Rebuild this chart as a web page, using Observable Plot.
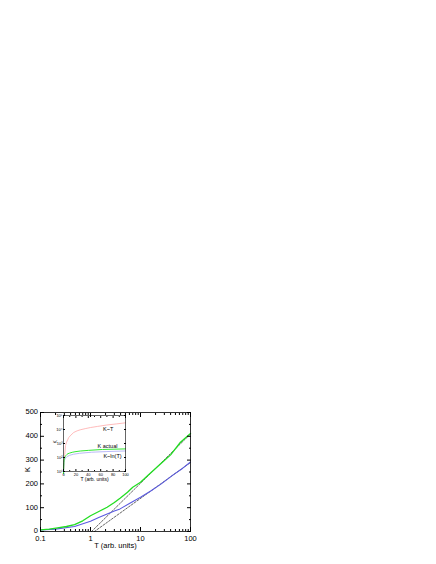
<!DOCTYPE html>
<html><head><meta charset="utf-8">
<script src="https://cdn.jsdelivr.net/npm/d3@7"></script>
<script src="https://cdn.jsdelivr.net/npm/@observablehq/plot@0.6"></script>
<style>
body{margin:0;background:#fff;}
#wrap{position:relative;width:436px;height:564px;}
#wrap svg{position:absolute;left:0;top:0;}
</style>
</head><body><div id="wrap"></div>
<script>
// K actual (green)
const greenT = [0.1, 0.15, 0.22, 0.33, 0.48, 0.7, 1, 1.5, 2.15, 3, 3.9, 5.5, 7, 10, 14, 18.5, 27, 40, 63, 100];
const greenK = [7, 10, 15, 21, 29, 45, 66, 85, 102, 122, 140, 165, 186, 207, 235, 258, 290, 322, 375, 412];
// K ~ ln(T) (blue)
const blueT = [0.1, 0.2, 0.48, 1, 1.5, 2.15, 3, 3.9, 6, 10, 16, 26, 45, 70, 100];
const blueK = [6, 10, 21, 43, 60, 74, 86, 95, 118, 144, 170, 200, 238, 266, 292];
// dashed asymptotes
const dashAT = [1.05, 100];
const dashAK = [0, 410];
const dashBT = [1.2, 100];
const dashBK = [0, 290];
// K ~ T (pink, inset only)
const pinkT = [0.5, 1, 2, 3.2, 5, 8.5, 12, 16.6, 22, 27, 35, 43.5, 55, 70, 85, 100];
const pinkK = [16, 40, 160, 720, 1260, 2700, 4000, 6200, 8000, 9500, 11500, 13800, 16600, 21000, 25000, 30000];
// ticks
const xMajor = [0.1, 1, 10, 100];
const xMinor = [0.2,0.3,0.4,0.5,0.6,0.7,0.8,0.9,2,3,4,5,6,7,8,9,20,30,40,50,60,70,80,90];
const yMajor = [0, 100, 200, 300, 400, 500];
const yMinor = [50, 150, 250, 350, 450];
const insetXMajor = [0, 20, 40, 60, 80, 100];
const insetXMinor = [10, 30, 50, 70, 90];
const insetYMajor = [10, 100, 1000, 10000, 100000];
const insetYLabels = ["10\u00b9", "10\u00b2", "10\u00b3", "10\u2074", "10\u2075"];
const insetNotes = [
  {t: 72, k: 10000, s: "K~T"},
  {t: 71, k: 620, s: "K actual"},
  {t: 79, k: 118, s: "K~ln(T)"}
];

const font = "'Liberation Sans', Arial, sans-serif";
const zip = (a, b) => a.map((v, i) => ({x: v, y: b[i]}));
const blank = () => "";

const main = Plot.plot({
  width: 436, height: 564,
  marginLeft: 40, marginRight: 246, marginTop: 412, marginBottom: 33,
  style: {fontFamily: font, fontSize: "7.5px", background: "transparent", color: "#000"},
  x: {type: "log", domain: [0.1, 100]},
  y: {domain: [0, 500]},
  marks: [
    Plot.line(zip(dashAT, dashAK), {x: "x", y: "y", stroke: "#222", strokeWidth: 0.7, strokeDasharray: "2,1.5"}),
    Plot.line(zip(dashBT, dashBK), {x: "x", y: "y", stroke: "#222", strokeWidth: 0.7, strokeDasharray: "2,1.5"}),
    Plot.line(zip(blueT, blueK), {x: "x", y: "y", stroke: "#5a5ae0", strokeWidth: 1.1}),
    Plot.line(zip(greenT, greenK), {x: "x", y: "y", stroke: "#22dd22", strokeWidth: 1.3}),
    Plot.frame({stroke: "#000", strokeWidth: 0.8}),
    Plot.axisX(xMajor, {anchor: "bottom", tickSize: -4, tickFormat: blank, label: null}),
    Plot.axisX(xMajor, {anchor: "top", tickSize: -4, tickFormat: blank, label: null}),
    Plot.axisX(xMinor, {anchor: "bottom", tickSize: -2, tickFormat: blank, label: null}),
    Plot.axisX(xMinor, {anchor: "top", tickSize: -2, tickFormat: blank, label: null}),
    Plot.axisY(yMajor, {anchor: "left", tickSize: -4, tickFormat: blank, label: null}),
    Plot.axisY(yMajor, {anchor: "right", tickSize: -4, tickFormat: blank, label: null}),
    Plot.axisY(yMinor, {anchor: "left", tickSize: -2, tickFormat: blank, label: null}),
    Plot.axisY(yMinor, {anchor: "right", tickSize: -2, tickFormat: blank, label: null}),
    Plot.text(xMajor, {x: d => d, frameAnchor: "bottom", dy: 9.5, text: d => String(d), fontSize: 7.5, fill: "#000"}),
    Plot.text(yMajor, {y: d => d, frameAnchor: "left", dx: -2.5, dy: -0.5, textAnchor: "end", text: d => String(d), fontSize: 7.5, fill: "#000"}),
    Plot.text(["T (arb. units)"], {frameAnchor: "bottom", dy: 16, text: d => d, fontSize: 7.5, fill: "#000"}),
    Plot.text(["K"], {frameAnchor: "left", dx: -13, rotate: -90, text: d => d, fontSize: 7.5, fill: "#000"})
  ]
});

const inset = Plot.plot({
  width: 436, height: 564,
  marginLeft: 63, marginRight: 311, marginTop: 415, marginBottom: 93,
  style: {fontFamily: font, fontSize: "4px", background: "transparent", color: "#000"},
  x: {domain: [0, 100]},
  y: {type: "log", domain: [10, 100000]},
  marks: [
    Plot.line(zip(pinkT, pinkK), {x: "x", y: "y", stroke: "#ffaaaa", strokeWidth: 0.8}),
    Plot.line(zip(blueT, blueK), {x: "x", y: "y", stroke: "#a8a8f5", strokeWidth: 0.8}),
    Plot.line(zip(greenT, greenK), {x: "x", y: "y", stroke: "#33e833", strokeWidth: 1}),
    Plot.frame({stroke: "#000", strokeWidth: 0.6}),
    Plot.axisX(insetXMajor, {anchor: "bottom", tickSize: -2, tickFormat: blank, label: null}),
    Plot.axisX(insetXMajor, {anchor: "top", tickSize: -2, tickFormat: blank, label: null}),
    Plot.axisX(insetXMinor, {anchor: "bottom", tickSize: -1, tickFormat: blank, label: null}),
    Plot.axisX(insetXMinor, {anchor: "top", tickSize: -1, tickFormat: blank, label: null}),
    Plot.axisY(insetYMajor, {anchor: "left", tickSize: -2, tickFormat: blank, label: null}),
    Plot.axisY(insetYMajor, {anchor: "right", tickSize: -2, tickFormat: blank, label: null}),
    Plot.text(insetXMajor, {x: d => d, frameAnchor: "bottom", dy: 4, text: d => String(d), fontSize: 4, fill: "#000"}),
    Plot.text(insetYMajor, {y: d => d, frameAnchor: "left", dx: -1, textAnchor: "end", text: (d, i) => insetYLabels[i], fontSize: 4, fill: "#000"}),
    Plot.text(["T (arb. units)"], {frameAnchor: "bottom", dy: 9, text: d => d, fontSize: 5, fill: "#000"}),
    Plot.text(["K"], {frameAnchor: "left", dx: -8, rotate: -90, text: d => d, fontSize: 5, fill: "#000"}),
    Plot.text(insetNotes, {x: "t", y: "k", text: "s", fontSize: 5.5, fill: "#000"})
  ]
});

const wrap = document.getElementById("wrap");
wrap.appendChild(main);
wrap.appendChild(inset);
</script>
</body></html>
